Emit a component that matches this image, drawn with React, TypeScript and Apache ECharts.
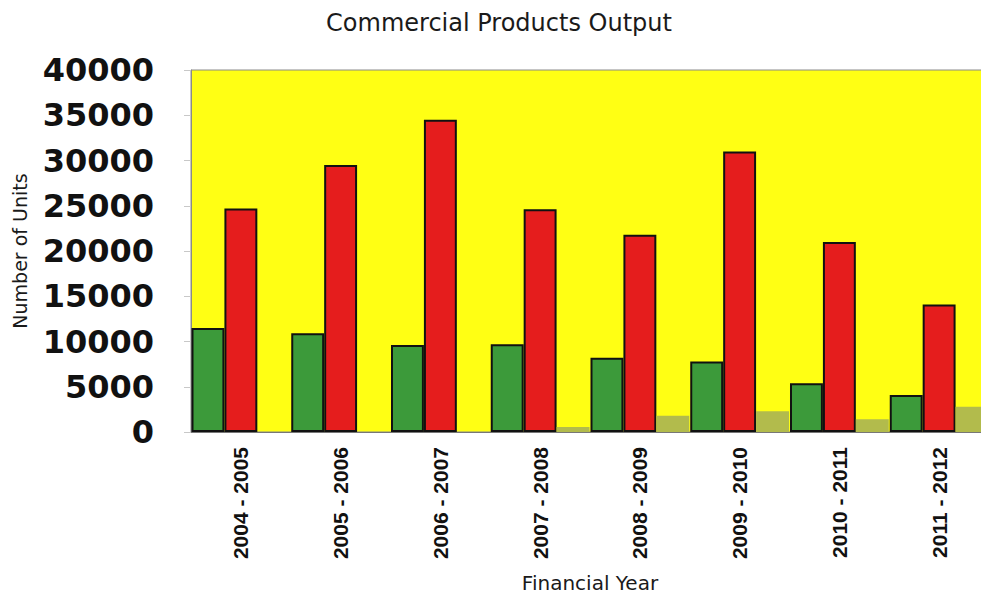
import React, { useEffect, useRef } from "react";
import * as echarts from "echarts";

const categories = [
  "2004 - 2005",
  "2005 - 2006",
  "2006 - 2007",
  "2007 - 2008",
  "2008 - 2009",
  "2009 - 2010",
  "2010 - 2011",
  "2011 - 2012",
];
const greenSeries = [11500, 10900, 9600, 9700, 8200, 7800, 5400, 4100];
const redSeries = [24700, 29500, 34500, 24600, 21800, 31000, 21000, 14100];
const oliveSeries = [0, 0, 0, 550, 1800, 2300, 1400, 2800];
const yTicks = { min: 0, max: 40000, interval: 5000 };

const WIDE = "'DejaVu Sans', Verdana, sans-serif";
const ARIAL = "'Liberation Sans', Arial, Helvetica, sans-serif";

export default function App() {
  const ref = useRef<HTMLDivElement>(null);

  useEffect(() => {
    if (!ref.current) return;
    const chart = echarts.init(ref.current, undefined, { renderer: "svg" });
    const barBorder = { borderColor: "#111", borderWidth: 2 };
    chart.setOption({
      animation: false,
      backgroundColor: "#ffffff",
      title: {
        text: "Commercial Products Output",
        left: 494,
        textAlign: "center",
        top: 6,
        textStyle: { fontFamily: WIDE, fontSize: 24, fontWeight: "normal", color: "#1a1a1a" },
      },
      grid: {
        left: 191,
        top: 70,
        width: 798,
        height: 362,
        outerBoundsMode: "none",
        containLabel: false,
        show: true,
        backgroundColor: "#ffff14",
        borderColor: "#8a8a8a",
        borderWidth: 1,
      },
      xAxis: {
        type: "category",
        data: categories,
        name: "Financial Year",
        nameLocation: "middle",
        nameGap: 141,
        nameTextStyle: { fontFamily: WIDE, fontSize: 20, color: "#1a1a1a" },
        axisLine: { show: true, lineStyle: { color: "#777", width: 1 } },
        axisTick: { show: false },
        axisLabel: {
          rotate: 90,
          margin: 15,
          fontFamily: ARIAL,
          fontSize: 21,
          fontWeight: "bold",
          color: "#111",
        },
      },
      yAxis: {
        type: "value",
        min: yTicks.min,
        max: yTicks.max,
        interval: yTicks.interval,
        name: "Number of Units",
        nameLocation: "middle",
        nameGap: 162,
        nameRotate: 90,
        nameTextStyle: { fontFamily: WIDE, fontSize: 19, color: "#1a1a1a" },
        axisLine: { show: true, lineStyle: { color: "#8a8a8a" } },
        axisTick: { show: true, length: 7, lineStyle: { color: "#c8c8c8" } },
        splitLine: { show: false },
        axisLabel: {
          margin: 37,
          formatter: (v: number) => String(v),
          fontFamily: WIDE,
          fontSize: 32,
          fontWeight: "bold",
          color: "#111",
        },
      },
      series: [
        {
          type: "bar",
          data: greenSeries,
          barGap: "0%",
          barCategoryGap: "1%",
          itemStyle: { color: "#3c9a3a", ...barBorder },
        },
        {
          type: "bar",
          data: redSeries,
          barGap: "0%",
          barCategoryGap: "1%",
          itemStyle: { color: "#e51d1d", ...barBorder },
        },
        {
          type: "bar",
          data: oliveSeries,
          barGap: "0%",
          barCategoryGap: "1%",
          itemStyle: { color: "#b2bb4c", borderWidth: 0 },
        },
      ],
    });
    return () => chart.dispose();
  }, []);

  return (
    <div
      ref={ref}
      style={{ position: "fixed", left: 0, top: 0, width: 981, height: 596, background: "#fff" }}
    />
  );
}
